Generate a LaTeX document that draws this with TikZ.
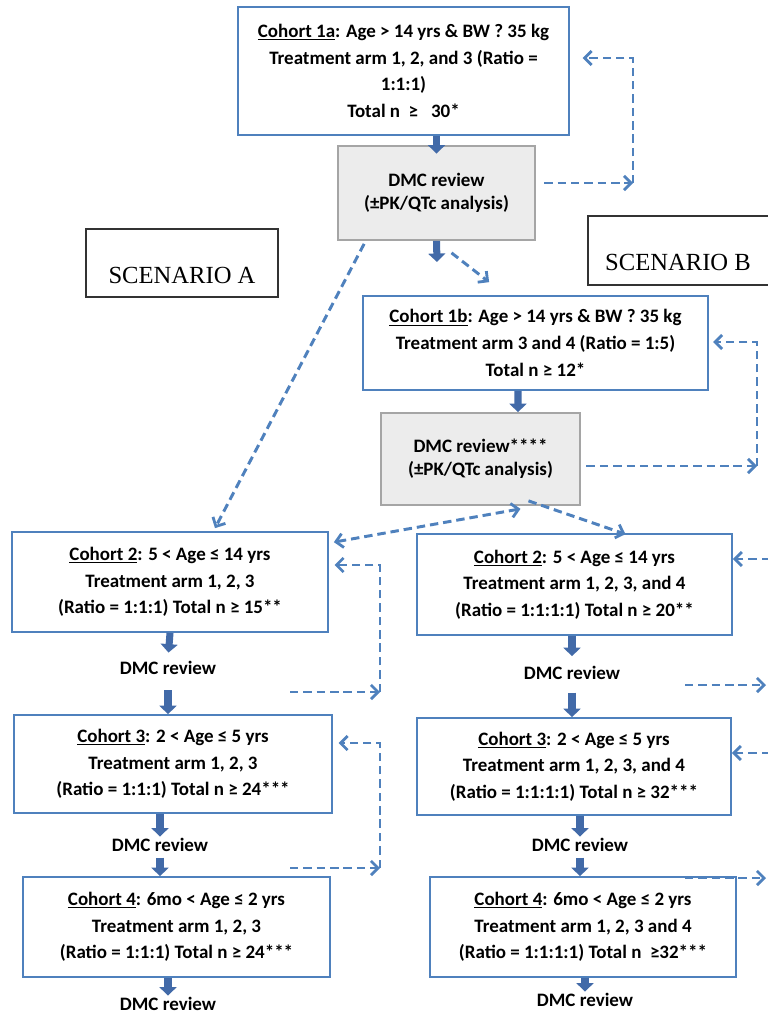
\documentclass[tikz,border=0pt]{standalone}
\usepackage{fontspec}
\setmainfont{Carlito}
\newfontfamily\escfont{Liberation Serif}
\usetikzlibrary{arrows.meta, calc}

\definecolor{azulborde}{RGB}{79,129,189}
\definecolor{azulflecha}{RGB}{66,106,168}
\definecolor{grisfondo}{RGB}{236,236,236}
\definecolor{grisborde}{RGB}{165,165,165}

\tikzset{
  cohorte/.style={draw=azulborde, line width=1.2pt, fill=white, align=center, inner sep=0pt,
    font=\bfseries\fontsize{13.5}{19}\selectfont},
  revision/.style={draw=grisborde, line width=1.2pt, fill=grisfondo, align=center, inner sep=0pt,
    font=\bfseries\fontsize{13.5}{16.5}\selectfont},
  etiqueta/.style={inner sep=1pt, font=\bfseries\fontsize{13.5}{16}\selectfont},
  escenario/.style={draw=black!80, line width=1.3pt},
  bloque/.style={draw=azulflecha, line width=5pt, -{Triangle[width=12pt,length=6pt]}},
  discont/.style={draw=azulborde, line width=2.1pt, dash pattern=on 6pt off 3.5pt,
    >={Straight Barb[length=5pt,width=10pt,line width=2pt]}}
}

\begin{document}
\begin{tikzpicture}[x=0.025cm, y=-0.025cm]
\useasboundingbox (0,0) rectangle (768,1014);

% Cohorte 1a y su revision
\node[cohorte, minimum width=8.275cm, minimum height=3.2cm] (c1a) at (403.5,71)
  {\underline{Cohort 1a}: Age > 14 yrs \& BW ? 35 kg\\ Treatment arm 1, 2, and 3 (Ratio =\\ 1:1:1)\\ Total n \ ≥ \ \ 30*};
\node[revision, minimum width=4.925cm, minimum height=2.35cm] (dmc1) at (436.5,193)
  {DMC review\\ (±PK/QTc analysis)};

% Escenarios
\draw[escenario] (86,229) rectangle (278,297);
\node[font=\escfont\fontsize{17.5}{20}\selectfont] (escA) at (182,275) {SCENARIO A};
\draw[escenario] (768,216) -- (588,216) -- (588,285) -- (768,285);
\node[font=\escfont\fontsize{17.5}{20}\selectfont] (escB) at (678,262) {SCENARIO B};

% Cohorte 1b y su revision
\node[cohorte, minimum width=8.625cm, minimum height=2.35cm] (c1b) at (535.5,343)
  {\underline{Cohort 1b}: Age > 14 yrs \& BW ? 35 kg\\ Treatment arm 3 and 4 (Ratio = 1:5)\\ Total n ≥ 12*};
\node[revision, minimum width=4.975cm, minimum height=2.3cm] (dmc2) at (480.5,459)
  {DMC review****\\ (±PK/QTc analysis)};

% Escenario A: cohortes 2 a 4
\node[cohorte, minimum width=7.9cm, minimum height=2.5cm] (a2) at (170,582)
  {\underline{Cohort 2}: 5 < Age ≤ 14 yrs\\ Treatment arm 1, 2, 3\\ (Ratio = 1:1:1) Total n ≥ 15**};
\node[etiqueta] (ra2) at (168,668) {DMC review};
\node[cohorte, minimum width=7.95cm, minimum height=2.45cm] (a3) at (173,764)
  {\underline{Cohort 3}: 2 < Age ≤ 5 yrs\\ Treatment arm 1, 2, 3\\ (Ratio = 1:1:1) Total n ≥ 24***};
\node[etiqueta] (ra3) at (160,845) {DMC review};
\node[cohorte, minimum width=7.675cm, minimum height=2.5cm] (a4) at (176.5,927)
  {\underline{Cohort 4}: 6mo < Age ≤ 2 yrs\\ Treatment arm 1, 2, 3\\ (Ratio = 1:1:1) Total n ≥ 24***};
\node[etiqueta] (ra4) at (168,1004) {DMC review};

% Escenario B: cohortes 2 a 4
\node[cohorte, minimum width=7.875cm, minimum height=2.525cm] (b2) at (574.5,584.5)
  {\underline{Cohort 2}: 5 < Age ≤ 14 yrs\\ Treatment arm 1, 2, 3, and 4\\ (Ratio = 1:1:1:1) Total n ≥ 20**};
\node[etiqueta] (rb2) at (572,673) {DMC review};
\node[cohorte, minimum width=7.85cm, minimum height=2.425cm] (b3) at (574,766.5)
  {\underline{Cohort 3}: 2 < Age ≤ 5 yrs\\ Treatment arm 1, 2, 3, and 4\\ (Ratio = 1:1:1:1) Total n ≥ 32***};
\node[etiqueta] (rb3) at (580,845) {DMC review};
\node[cohorte, minimum width=7.65cm, minimum height=2.5cm] (b4) at (583,927)
  {\underline{Cohort 4}: 6mo < Age ≤ 2 yrs\\ Treatment arm 1, 2, 3 and 4\\ (Ratio = 1:1:1:1) Total n \ ≥32***};
\node[etiqueta] (rb4) at (585,1000) {DMC review};

% Flechas macizas
\coordinate (p1) at (437,262);
\draw[bloque] (dmc1.north |- c1a.south) -- ([yshift=-6pt]dmc1.north);
\draw[bloque] (dmc1.south) -- (p1);
\draw[bloque] ($(c1b.south)+(-17.5,0)$) -- ($(dmc2.north)+(37.5,0)$);
\draw[bloque, shorten >=5pt] (a2.south) -- (ra2.north);
\draw[bloque, shorten <=10pt] (ra2.south) -- (ra2.south |- a3.north);
\draw[bloque] (a3.south -| ra3.north) -- (ra3.north);
\draw[bloque, shorten <=3pt] (ra3.south) -- (ra3.south |- a4.north);
\draw[bloque] (a4.south -| ra4.north) -- (ra4.north);
\draw[bloque, shorten >=6pt] (b2.south -| rb2.north) -- (rb2.north);
\draw[bloque, shorten <=8pt] (rb2.south) -- (rb2.south |- b3.north);
\draw[bloque] (b3.south -| rb3.north) -- (rb3.north);
\draw[bloque, shorten <=3pt] (rb3.south) -- (rb3.south |- b4.north);
\draw[bloque] (b4.south -| rb4.north) -- (rb4.north);

% Lazos discontinuos arriba
\coordinate (v1a) at (633,58);
\coordinate (v1b) at (633,183);
\draw[discont, ->, shorten <=6pt] (dmc1.east |- v1b) -- (v1b);
\draw[discont, ->, shorten >=9pt] (v1b) -- (v1a) -- (c1a.east |- v1a);
\coordinate (v2a) at (757,342);
\coordinate (v2b) at (757,466);
\draw[discont, ->, shorten <=4pt] (dmc2.east |- v2b) -- (v2b);
\draw[discont, ->, shorten >=3pt] (v2b) -- (v2a) -- (c1b.east |- v2a);

% Enlaces entre revisiones y cohortes
\draw[discont, ->] ($(dmc1.south)+(15,12)$) -- ($(c1b.north west)+(127,-13)$);
\draw[discont, ->] ($(dmc1.south west)+(27,3)$) -- ($(a2.north)+(45,-3)$);
\draw[discont, <->] ($(dmc2.south)+(40,3)$) -- ($(a2.north east)+(5,11)$);
\draw[discont, ->] ($(dmc2.south)+(48,-5)$) -- ($(b2.north)+(51,1)$);

% Lazos del escenario A
\coordinate (s1) at (290,692);
\coordinate (v3b) at (380,692);
\coordinate (v3a) at (380,565);
\draw[discont, ->] (s1) -- (v3b);
\draw[discont, ->, shorten >=4pt] (v3b) -- (v3a) -- (a2.east |- v3a);
\coordinate (s2) at (290,868);
\coordinate (v4b) at (380,868);
\coordinate (v4a) at (380,743);
\draw[discont, ->] (s2) -- (v4b);
\draw[discont, ->, shorten >=4pt] (v4b) -- (v4a) -- (a3.east |- v4a);

% Flechas del escenario B hacia el borde
\coordinate (e1) at (770,559);
\draw[discont, ->] (e1) -- (b2.east |- e1);
\coordinate (s3) at (685,685);
\coordinate (e2) at (766,685);
\draw[discont, ->] (s3) -- (e2);
\coordinate (e3) at (770,753);
\draw[discont, ->] (e3) -- (b3.east |- e3);
\coordinate (s4) at (685,878);
\coordinate (e4) at (766,878);
\draw[discont, ->] (s4) -- (e4);
\end{tikzpicture}
\end{document}
